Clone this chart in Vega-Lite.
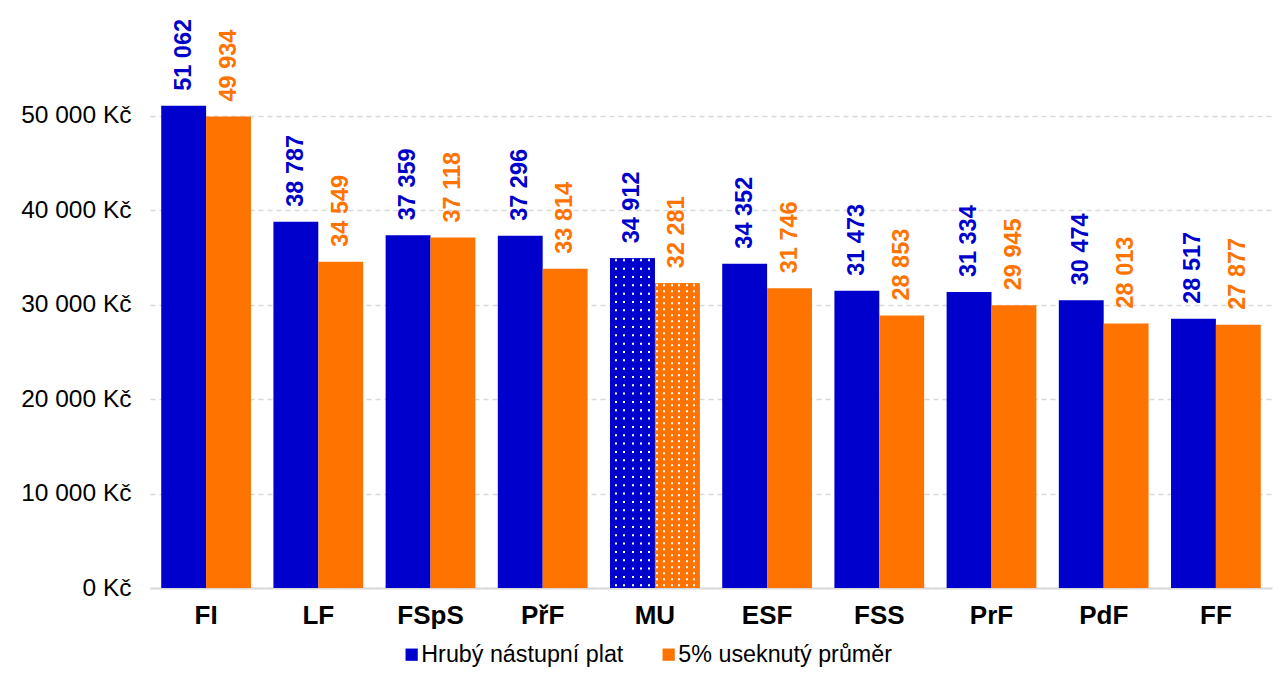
{
  "$schema": "https://vega.github.io/schema/vega-lite/v6.json",
  "width": 1122,
  "height": 576,
  "autosize": {"type": "none"},
  "padding": {"left": 150, "top": 12, "right": 12, "bottom": 96},
  "background": "white",
  "config": {
    "view": {"stroke": null},
    "font": "Liberation Sans",
    "locale": {
      "number": {"decimal": ",", "thousands": " ", "grouping": [3], "currency": ["", " Kč"]}
    }
  },
  "data": {
    "values": [
      {"fac": "FI", "series": "Hrubý nástupní plat", "value": 51062},
      {"fac": "FI", "series": "5% useknutý průměr", "value": 49934},
      {"fac": "LF", "series": "Hrubý nástupní plat", "value": 38787},
      {"fac": "LF", "series": "5% useknutý průměr", "value": 34549},
      {"fac": "FSpS", "series": "Hrubý nástupní plat", "value": 37359},
      {"fac": "FSpS", "series": "5% useknutý průměr", "value": 37118},
      {"fac": "PřF", "series": "Hrubý nástupní plat", "value": 37296},
      {"fac": "PřF", "series": "5% useknutý průměr", "value": 33814},
      {"fac": "MU", "series": "Hrubý nástupní plat", "value": 34912},
      {"fac": "MU", "series": "5% useknutý průměr", "value": 32281},
      {"fac": "ESF", "series": "Hrubý nástupní plat", "value": 34352},
      {"fac": "ESF", "series": "5% useknutý průměr", "value": 31746},
      {"fac": "FSS", "series": "Hrubý nástupní plat", "value": 31473},
      {"fac": "FSS", "series": "5% useknutý průměr", "value": 28853},
      {"fac": "PrF", "series": "Hrubý nástupní plat", "value": 31334},
      {"fac": "PrF", "series": "5% useknutý průměr", "value": 29945},
      {"fac": "PdF", "series": "Hrubý nástupní plat", "value": 30474},
      {"fac": "PdF", "series": "5% useknutý průměr", "value": 28013},
      {"fac": "FF", "series": "Hrubý nástupní plat", "value": 28517},
      {"fac": "FF", "series": "5% useknutý průměr", "value": 27877}
    ]
  },
  "encoding": {
    "x": {
      "field": "fac",
      "type": "nominal",
      "sort": null,
      "scale": {"paddingInner": 0.2, "paddingOuter": 0.1},
      "axis": {
        "title": null,
        "labelAngle": 0,
        "labelFontSize": 26,
        "labelFontWeight": "bold",
        "labelColor": "#000000",
        "labelPadding": 14,
        "ticks": false,
        "domainColor": "#D9D9D9",
        "domainWidth": 2
      }
    },
    "xOffset": {
      "field": "series",
      "type": "nominal",
      "sort": ["Hrubý nástupní plat", "5% useknutý průměr"],
      "scale": {"domain": ["Hrubý nástupní plat", "5% useknutý průměr"], "paddingInner": 0, "paddingOuter": 0}
    },
    "y": {
      "field": "value",
      "type": "quantitative",
      "scale": {"domain": [0, 61000], "nice": false},
      "axis": {
        "title": null,
        "values": [0, 10000, 20000, 30000, 40000, 50000],
        "format": "$,.0f",
        "labelFontSize": 24.5,
        "labelColor": "#000000",
        "labelPadding": 19,
        "ticks": false,
        "domain": false,
        "gridColor": "#D9D9D9",
        "gridWidth": 1.5,
        "gridDash": [5, 4]
      }
    }
  },
  "layer": [
    {
      "mark": {"type": "bar"},
      "encoding": {
        "color": {
          "field": "series",
          "type": "nominal",
          "sort": ["Hrubý nástupní plat", "5% useknutý průměr"],
          "scale": {"domain": ["Hrubý nástupní plat", "5% useknutý průměr"], "range": ["#0000CC", "#FF7300"]},
          "legend": {
            "title": null,
            "orient": "none",
            "legendX": 250,
            "legendY": 631,
            "direction": "horizontal",
            "symbolType": "square",
            "symbolSize": 150,
            "symbolStrokeWidth": 0,
            "labelFontSize": 23.3,
            "labelColor": "#000000",
            "labelOffset": -2,
            "labelLimit": 0,
            "columnPadding": 33
          }
        }
      }
    },
    {
      "transform": [{"filter": "datum.fac == 'MU' && datum.series == 'Hrubý nástupní plat'"}],
      "mark": {"type": "rule", "color": "white", "strokeWidth": 44, "strokeDash": [2, 6.33], "strokeDashOffset": -1, "strokeCap": "butt"},
      "encoding": {"y2": {"datum": 0}}
    },
    {
      "transform": [{"filter": "datum.fac == 'MU' && datum.series == '5% useknutý průměr'"}],
      "mark": {"type": "rule", "color": "white", "strokeWidth": 44, "strokeDash": [2, 4], "strokeDashOffset": -1, "strokeCap": "butt"},
      "encoding": {"y2": {"datum": 0}}
    },
    {
      "transform": [{"filter": "datum.fac == 'MU' && datum.series == 'Hrubý nástupní plat'"}],
      "mark": {
        "type": "bar",
        "color": {
          "gradient": "linear", "x1": 0, "y1": 0, "x2": 1, "y2": 0,
          "stops": [
            {"offset": 0, "color": "#0000CC"},
            {"offset": 0.112, "color": "#0000CC"},
            {"offset": 0.112, "color": "rgba(0,0,204,0)"},
            {"offset": 0.156, "color": "rgba(0,0,204,0)"},
            {"offset": 0.156, "color": "#0000CC"},
            {"offset": 0.297, "color": "#0000CC"},
            {"offset": 0.297, "color": "rgba(0,0,204,0)"},
            {"offset": 0.341, "color": "rgba(0,0,204,0)"},
            {"offset": 0.341, "color": "#0000CC"},
            {"offset": 0.483, "color": "#0000CC"},
            {"offset": 0.483, "color": "rgba(0,0,204,0)"},
            {"offset": 0.527, "color": "rgba(0,0,204,0)"},
            {"offset": 0.527, "color": "#0000CC"},
            {"offset": 0.668, "color": "#0000CC"},
            {"offset": 0.668, "color": "rgba(0,0,204,0)"},
            {"offset": 0.712, "color": "rgba(0,0,204,0)"},
            {"offset": 0.712, "color": "#0000CC"},
            {"offset": 0.853, "color": "#0000CC"},
            {"offset": 0.853, "color": "rgba(0,0,204,0)"},
            {"offset": 0.897, "color": "rgba(0,0,204,0)"},
            {"offset": 0.897, "color": "#0000CC"},
            {"offset": 1, "color": "#0000CC"}
          ]
        }
      },
      "encoding": {}
    },
    {
      "transform": [{"filter": "datum.fac == 'MU' && datum.series == '5% useknutý průměr'"}],
      "mark": {
        "type": "bar",
        "color": {
          "gradient": "linear", "x1": 0, "y1": 0, "x2": 1, "y2": 0,
          "stops": [
            {"offset": 0, "color": "#FF7300"},
            {"offset": 0.018, "color": "#FF7300"},
            {"offset": 0.018, "color": "rgba(255,115,0,0)"},
            {"offset": 0.062, "color": "rgba(255,115,0,0)"},
            {"offset": 0.062, "color": "#FF7300"},
            {"offset": 0.185, "color": "#FF7300"},
            {"offset": 0.185, "color": "rgba(255,115,0,0)"},
            {"offset": 0.229, "color": "rgba(255,115,0,0)"},
            {"offset": 0.229, "color": "#FF7300"},
            {"offset": 0.352, "color": "#FF7300"},
            {"offset": 0.352, "color": "rgba(255,115,0,0)"},
            {"offset": 0.396, "color": "rgba(255,115,0,0)"},
            {"offset": 0.396, "color": "#FF7300"},
            {"offset": 0.519, "color": "#FF7300"},
            {"offset": 0.519, "color": "rgba(255,115,0,0)"},
            {"offset": 0.563, "color": "rgba(255,115,0,0)"},
            {"offset": 0.563, "color": "#FF7300"},
            {"offset": 0.686, "color": "#FF7300"},
            {"offset": 0.686, "color": "rgba(255,115,0,0)"},
            {"offset": 0.730, "color": "rgba(255,115,0,0)"},
            {"offset": 0.730, "color": "#FF7300"},
            {"offset": 0.853, "color": "#FF7300"},
            {"offset": 0.853, "color": "rgba(255,115,0,0)"},
            {"offset": 0.897, "color": "rgba(255,115,0,0)"},
            {"offset": 0.897, "color": "#FF7300"},
            {"offset": 1, "color": "#FF7300"}
          ]
        }
      },
      "encoding": {}
    },
    {
      "mark": {"type": "text", "angle": -90, "align": "left", "baseline": "middle", "dx": 15, "fontSize": 23.5, "fontWeight": "bold"},
      "encoding": {
        "text": {"field": "value", "type": "quantitative", "format": ",.0f"},
        "color": {"field": "series", "type": "nominal", "sort": ["Hrubý nástupní plat", "5% useknutý průměr"]}
      }
    }
  ]
}
